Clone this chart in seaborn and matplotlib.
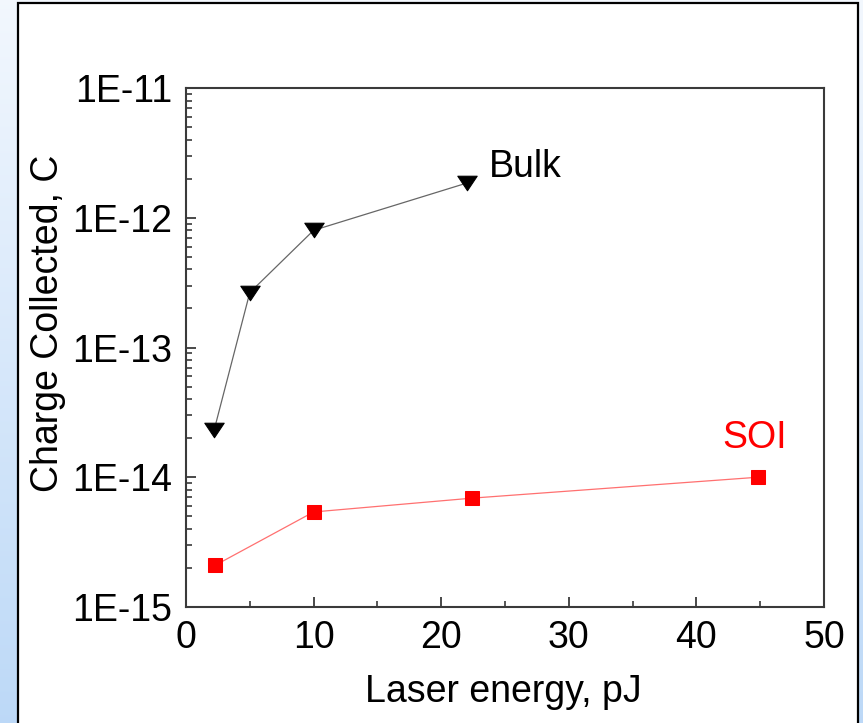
import numpy as np
import pandas as pd
import matplotlib
matplotlib.use("Agg")
import matplotlib.pyplot as plt
import seaborn as sns
from matplotlib.patches import Rectangle
from matplotlib.path import Path
from matplotlib.ticker import FixedLocator, LogLocator, FuncFormatter, MultipleLocator

# Collected charge vs. laser pulse energy
energy_bulk = [2.2, 5.0, 10.0, 22.0]
charge_bulk = [2.3e-14, 2.65e-13, 8.0e-13, 1.85e-12]

energy_soi = [2.3, 10.0, 22.4, 44.8]
charge_soi = [2.1e-15, 5.4e-15, 6.9e-15, 1.0e-14]

x_ticks = [0, 10, 20, 30, 40, 50]
y_ticks = [1e-15, 1e-14, 1e-13, 1e-12, 1e-11]
y_tick_labels = ["1E-15", "1E-14", "1E-13", "1E-12", "1E-11"]

bulk = pd.DataFrame({"energy": energy_bulk, "charge": charge_bulk})
soi = pd.DataFrame({"energy": energy_soi, "charge": charge_soi})

sns.set_theme(style="ticks")
plt.rcParams["font.family"] = ["Liberation Sans", "DejaVu Sans"]

W, H = 863, 723
fig = plt.figure(figsize=(W / 100, H / 100), dpi=100)

# slide-style backdrop: pale blue gradient with a white framed panel
bg = fig.add_axes([0, 0, 1, 1], zorder=-10)
grad = np.linspace(0, 1, 256)[:, None]
top = np.array([0.95, 0.97, 0.995])
bot = np.array([0.74, 0.85, 0.97])
img = top[None, None, :] * (1 - grad[:, :, None]) + bot[None, None, :] * grad[:, :, None]
bg.imshow(img, aspect="auto", extent=[0, 1, 0, 1])
bg.set_xlim(0, 1)
bg.set_ylim(0, 1)
bg.axis("off")
bg.add_patch(Rectangle((18 / W, -0.01), (858 - 18) / W, 1.01 - 3 / H,
                       facecolor="white", edgecolor="black", linewidth=1.6))

ax = fig.add_axes([186 / W, 1 - 607 / H, (824 - 186) / W, (607 - 88) / H])
ax.set_facecolor("white")

tri_down = Path([(-1, 0.75), (1, 0.75), (0, -0.75), (-1, 0.75)],
                [Path.MOVETO, Path.LINETO, Path.LINETO, Path.CLOSEPOLY])

sns.lineplot(data=bulk, x="energy", y="charge", ax=ax, color="#666666",
             linewidth=0.9, marker=tri_down, markersize=14,
             markerfacecolor="black", markeredgecolor="black", sort=False)
sns.lineplot(data=soi, x="energy", y="charge", ax=ax, color="#ff7070",
             linewidth=0.9, marker="s", markersize=10,
             markerfacecolor="red", markeredgecolor="red", sort=False)

ax.set_yscale("log")
ax.set_xlim(0, 50)
ax.set_ylim(1e-15, 1e-11)

ax.xaxis.set_major_locator(FixedLocator(x_ticks))
ax.xaxis.set_minor_locator(MultipleLocator(5))
ax.yaxis.set_major_locator(FixedLocator(y_ticks))
ax.yaxis.set_major_formatter(FuncFormatter(
    lambda v, pos: y_tick_labels[y_ticks.index(min(y_ticks, key=lambda t: abs(np.log10(t) - np.log10(v))))]))
ax.yaxis.set_minor_locator(LogLocator(base=10, subs=np.arange(2, 10)))
ax.yaxis.set_minor_formatter(plt.NullFormatter())

spine_c = "#3a3a3a"
for s in ax.spines.values():
    s.set_color(spine_c)
    s.set_linewidth(1.5)

ax.tick_params(axis="both", which="major", direction="in", length=7, width=1.3,
               color=spine_c, labelsize=27, labelcolor="black")
ax.tick_params(axis="x", which="major", pad=9)
ax.tick_params(axis="y", which="major", pad=10)
ax.tick_params(axis="both", which="minor", direction="in", length=4, width=1.2,
               color=spine_c)
ax.set_xlabel("")
ax.set_ylabel("")

fig.text(503 / W, 1 - 692 / H, "Laser energy, pJ", fontsize=27,
         ha="center", va="center", color="black")
fig.text(48 / W, 1 - 323 / H, "Charge Collected, C", fontsize=27,
         rotation=90, ha="center", va="center", color="black")

ax.text(23.7, 10 ** (-11.686), "Bulk", fontsize=27, color="black",
        ha="left", va="baseline")
ax.text(42.0, 10 ** (-13.775), "SOI", fontsize=27, color="red",
        ha="left", va="baseline")

fig.savefig("out.png", dpi=100)
